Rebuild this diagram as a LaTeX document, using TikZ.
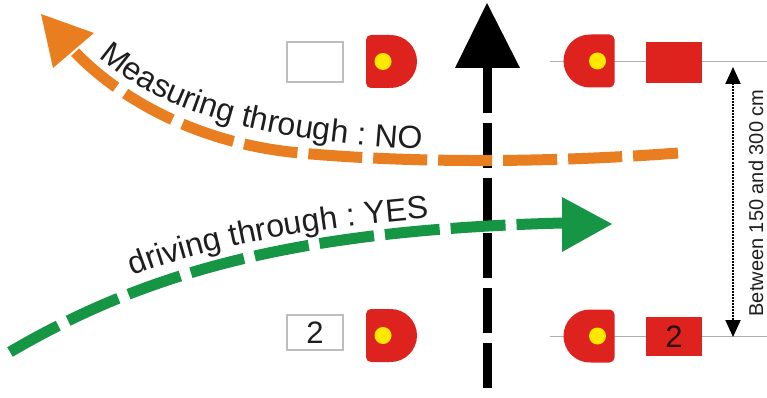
\documentclass[tikz,border=0pt]{standalone}
\usepackage{fontspec}
\setmainfont{Liberation Sans}
\usetikzlibrary{decorations.text,arrows.meta}
\definecolor{sigred}{RGB}{222,34,30}
\definecolor{sigyellow}{RGB}{255,232,0}
\definecolor{orangec}{RGB}{233,126,32}
\definecolor{greenc}{RGB}{22,150,68}
\definecolor{linegray}{RGB}{175,175,175}
\definecolor{boxgray}{RGB}{190,190,190}
\definecolor{txt}{RGB}{30,30,30}
\definecolor{darktxt}{RGB}{45,10,10}
\tikzset{
  sig/.pic={
    \fill[sigred, rounded corners=5pt] (-25.5,-26.5) rectangle (3,26.5);
    \fill[sigred] (-1,26.5) arc[start angle=90,end angle=-90,radius=26.5pt] -- cycle;
    \fill[sigyellow] (-8.5,0) circle[radius=8.5pt];
  },
  wbox/.style={draw=boxgray, line width=1.2pt, fill=white, minimum width=56pt, inner sep=0pt,
    font=\fontsize{31}{31}\selectfont, text=txt},
  rbox/.style={fill=sigred, minimum width=56pt, inner sep=0pt,
    font=\fontsize{31}{31}\selectfont, text=darktxt},
  guide/.style={draw=linegray, line width=1pt},
  road/.style={line width=11pt},
  curvetext/.style={decorate, decoration={text along path, text align=left,
    text color=txt}},
}
\begin{document}
\begin{tikzpicture}[x=1pt,y=1pt]
\useasboundingbox (0,0) rectangle (767,-398);

% guide lines
\coordinate (g1a) at (550,-62);
\coordinate (g1b) at (767,-62);
\coordinate (g2a) at (550,-336);
\coordinate (g2b) at (767,-336);
\draw[guide] (g1a) -- (g1b);
\draw[guide] (g2a) -- (g2b);

% signs
\node[wbox, minimum height=40pt] (box1) at (315,-62) {};
\node[wbox, minimum height=35pt] (box2) at (315,-332.5) {2};
\pic at (391.5,-61.5) {sig};
\pic at (391.5,-335.5) {sig};
\pic[xscale=-1] at (589,-61) {sig};
\pic[xscale=-1] at (589,-336) {sig};
\node[rbox, minimum height=41pt] (rbox1) at (674,-62.5) {};
\node[rbox, minimum height=39pt] (rbox2) at (674,-336.5) {2};

% central black arrow
\coordinate (btip) at (487,-3);
\coordinate (bbase) at (487,-68);
\coordinate (bend) at (487,-398);
\draw[line width=9pt, dash pattern=on 45pt off 10pt] (bbase) -- (bend);
\fill (btip) -- (455,-68) -- (520,-68) -- cycle;

% orange curve
\coordinate (oa) at (678,-153);
\coordinate (om) at (300,-153);
\coordinate (ob) at (73,-50);
\draw[road, orangec, dash pattern=on 54pt off 11pt, dash phase=9pt]
  (oa) .. controls (560,-162) and (420,-164) .. (om)
       .. controls (200,-144) and (120,-100) .. (ob);
\fill[orangec] (41,-14) -- (94,-33) -- (53,-68) -- cycle;

% green curve
\coordinate (ga) at (10,-352);
\coordinate (gb) at (562,-223);
\draw[road, greenc, dash pattern=on 55pt off 11pt]
  (ga) .. controls (150,-270) and (300,-230) .. (gb);
\fill[greenc] (612,-224) -- (562,-197) -- (562,-252) -- cycle;

% curved labels
\path[curvetext, decoration={text={|\fontsize{32}{38}\selectfont|Measuring through : NO}}]
  (99,-57) .. controls (160,-110) and (250,-140) .. (430,-150) -- (480,-151);
\path[curvetext, decoration={text={|\fontsize{32}{38}\selectfont|driving through : YES}}]
  (133,-276) .. controls (200,-250) and (300,-228) .. (432,-218) -- (480,-215);

% dimension
\coordinate (dtop) at (733,-67);
\coordinate (dbot) at (733,-337);
\draw[densely dotted, line width=2pt,
  {Triangle[length=17pt,width=15pt]}-{Triangle[length=17pt,width=15pt]}] (dtop) -- (dbot);
\node[rotate=90, text=txt, font=\fontsize{20}{20}\selectfont, inner sep=0pt] (dimlabel) at (756,-203)
  {Between 150 and 300 cm};
\end{tikzpicture}
\end{document}
